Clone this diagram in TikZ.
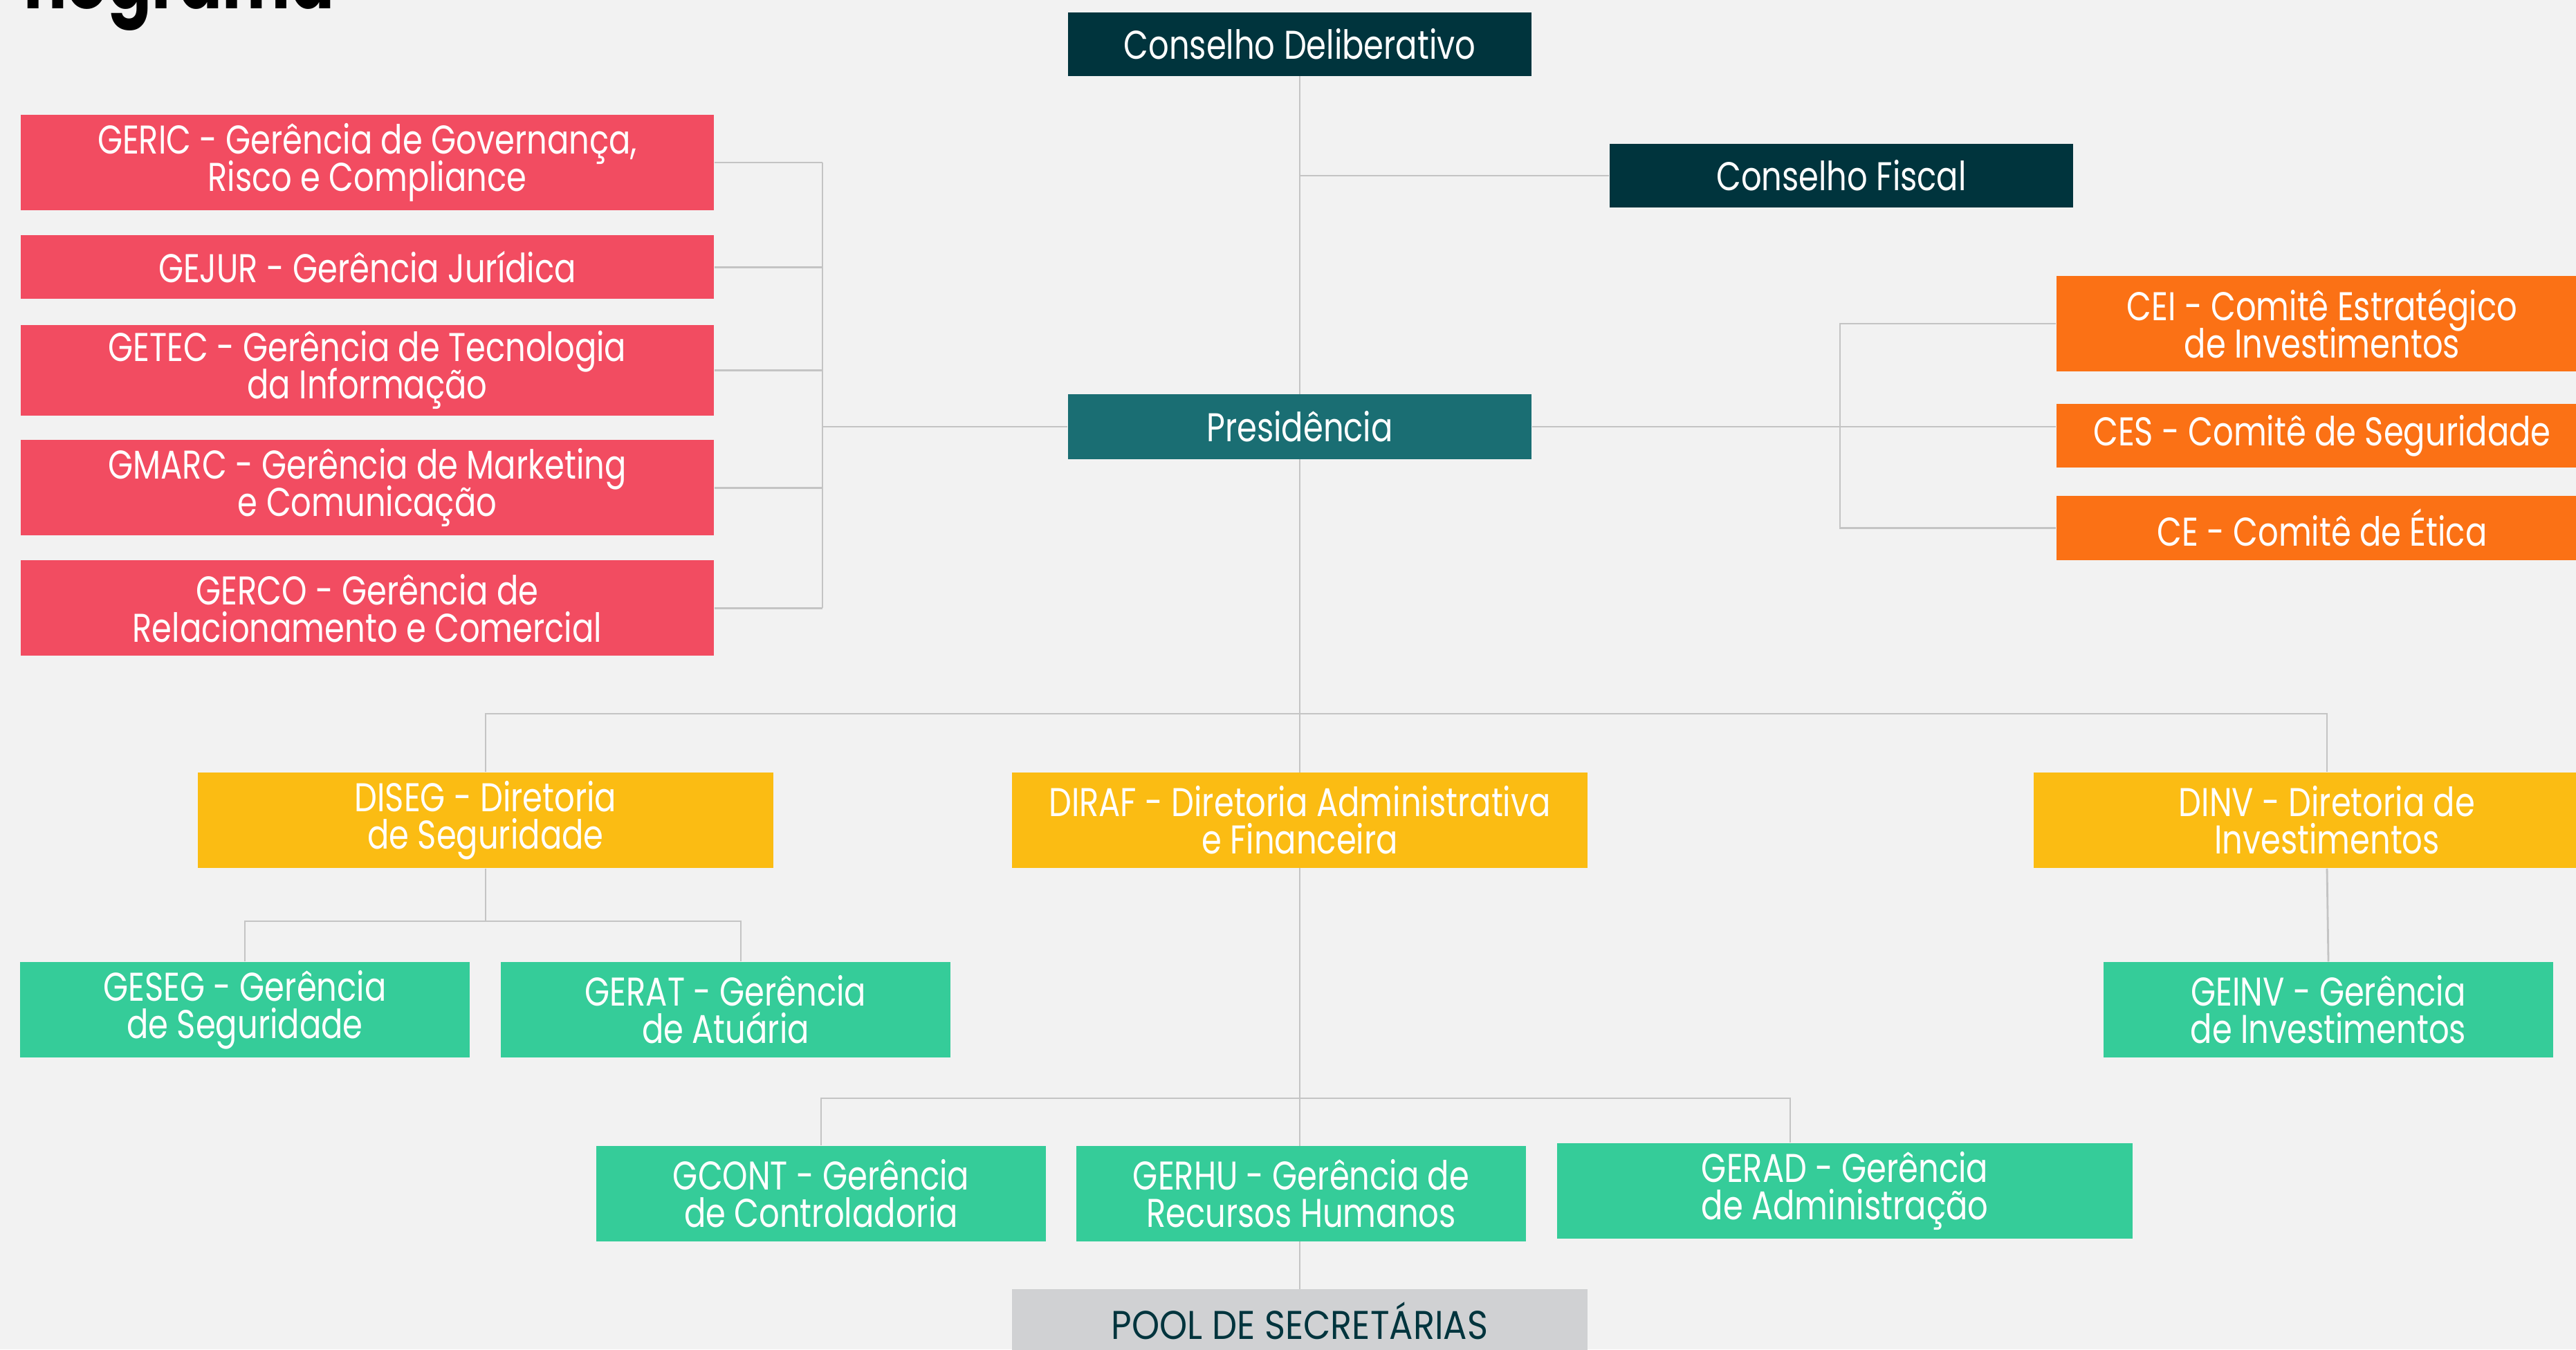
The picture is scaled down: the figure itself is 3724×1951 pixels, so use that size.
\documentclass[tikz,border=0pt]{standalone}
\usepackage{fontspec}
\setmainfont{Poppins}[FakeStretch=0.80]
\newfontfamily\caixaalta{Poppins}[FakeStretch=0.88]
\usetikzlibrary{positioning}
\definecolor{fundo}{HTML}{F2F2F2}
\definecolor{linha}{HTML}{C4C4C4}
\definecolor{petroleo}{HTML}{00343D}
\definecolor{azul}{HTML}{1A6E73}
\definecolor{vermelho}{HTML}{F24C61}
\definecolor{laranja}{HTML}{FB7115}
\definecolor{amarelo}{HTML}{FBBC13}
\definecolor{verde}{HTML}{35CC99}
\definecolor{cinza}{HTML}{D0D1D3}
\begin{document}
\begin{tikzpicture}[x=0.01cm,y=-0.01cm,
                box/.style={rectangle,inner sep=0pt,align=center,text=white,font={\fontsize{16.5}{15.3}\selectfont\lineskiplimit=-100pt}},
                cons/.style={box,fill=petroleo,minimum width=6.7cm,minimum height=0.92cm},
                pres/.style={box,fill=azul,minimum width=6.7cm,minimum height=0.93cm},
                geren/.style={box,fill=vermelho,minimum width=10.02cm,minimum height=1.38cm},
                comite/.style={box,fill=laranja,minimum width=7.68cm,minimum height=1.38cm},
                dir/.style={box,fill=amarelo,minimum width=8.32cm,minimum height=1.38cm},
                ger/.style={box,fill=verde,minimum width=6.5cm,minimum height=1.38cm},
                pool/.style={box,fill=cinza,text=petroleo,minimum width=8.32cm,minimum height=0.92cm,font=\caixaalta\fontsize{16.5}{15.3}\selectfont},
                lig/.style={draw=linha,line width=0.8pt}]
                \useasboundingbox (0,0) rectangle (3724,1951);
                \fill[fundo] (0,0) rectangle (3724,1951);
                \node[anchor=base east,inner sep=0pt,font=\bfseries\fontsize{33}{33}\selectfont](titulo) at (484,12){nograma};
                \coordinate (lbr) at (1189,0);
                \coordinate (rbr) at (2660,0);
                \coordinate (dbar) at (0,1032);
                \coordinate (sbar) at (0,1332);
                \coordinate (abar) at (0,1588);
                \draw[lig](1879,64) -- (1879,1910);
                \node[cons](CD) at (1879,64){Conselho Deliberativo};
                \node[cons](CF) at (2662,254){Conselho Fiscal};
                \node[pres](PRES) at (1879,617){Presidência};
                \node[geren](GERIC) at (531,235){GERIC - Gerência de Governança,\\Risco e Compliance};
                \node[geren,minimum height=0.92cm](GEJUR)[below of=GERIC,node distance=1.51cm]{GEJUR - Gerência Jurídica};
                \node[geren,minimum height=1.31cm](GETEC)[below of=GEJUR,node distance=1.49cm]{GETEC - Gerência de Tecnologia\\da Informação};
                \node[geren](GMARC)[below of=GETEC,node distance=1.70cm]{GMARC - Gerência de Marketing\\e Comunicação};
                \node[geren](GERCO)[below of=GMARC,node distance=1.74cm]{GERCO - Gerência de\\Relacionamento e Comercial};
                \node[comite](CEI) at (3357,468){CEI - Comitê Estratégico\\de Investimentos};
                \node[comite,minimum height=0.92cm](CES)[below of=CEI,node distance=1.62cm]{CES - Comitê de Seguridade};
                \node[comite,minimum height=0.93cm](CE)[below of=CES,node distance=1.33cm]{CE - Comitê de Ética};
                \node[dir](DISEG) at (702,1186){DISEG - Diretoria\\de Seguridade};
                \node[dir](DIRAF) at (1879,1186){DIRAF - Diretoria Administrativa\\e Financeira};
                \node[dir,minimum width=8.48cm](DINV) at (3364,1186){DINV - Diretoria de\\Investimentos};
                \node[ger](GESEG) at (354,1460){GESEG - Gerência\\de Seguridade};
                \node[ger](GERAT) at (1049,1460){GERAT - Gerência\\de Atuária};
                \node[ger](GEINV) at (3366,1460){GEINV - Gerência\\de Investimentos};
                \node[ger](GCONT) at (1187,1726){GCONT - Gerência\\de Controladoria};
                \node[ger](GERHU) at (1881,1726){GERHU - Gerência de\\Recursos Humanos};
                \node[ger,minimum width=8.32cm](GERAD) at (2667,1722){GERAD - Gerência\\de Administração};
                \node[pool](POOL) at (1879,1910){POOL DE SECRETÁRIAS};
                \draw[lig](CD.south |- CF.west) -- (CF.west);
                \draw[lig](GERIC.east) -- (GERIC.east -| lbr);
                \draw[lig](GEJUR.east) -- (GEJUR.east -| lbr);
                \draw[lig](GETEC.east) -- (GETEC.east -| lbr);
                \draw[lig](GMARC.east) -- (GMARC.east -| lbr);
                \draw[lig](GERCO.east) -- (GERCO.east -| lbr);
                \draw[lig](GERIC.east -| lbr) -- (GERCO.east -| lbr);
                \draw[lig](PRES.west) -- (PRES.west -| lbr);
                \draw[lig](PRES.east) -- (PRES.east -| CES.west);
                \draw[lig](CEI.west) -- (CEI.west -| rbr) -- (CE.west -| rbr) -- (CE.west);
                \draw[lig](DISEG.north) -- (DISEG.north |- dbar) -- (DINV.north |- dbar) -- (DINV.north);
                \draw[lig](DINV.south) -- (GEINV.north);
                \draw[lig](DISEG.south) -- (DISEG.south |- sbar);
                \draw[lig](GESEG.north) -- (GESEG.north |- sbar) -- ([xshift=0.22cm]GERAT.north |- sbar) -- ([xshift=0.22cm]GERAT.north);
                \draw[lig](GCONT.north) -- (GCONT.north |- abar) -- ([xshift=-0.79cm]GERAD.north |- abar) -- ([xshift=-0.79cm]GERAD.north);
            \end{tikzpicture}
\end{document}
